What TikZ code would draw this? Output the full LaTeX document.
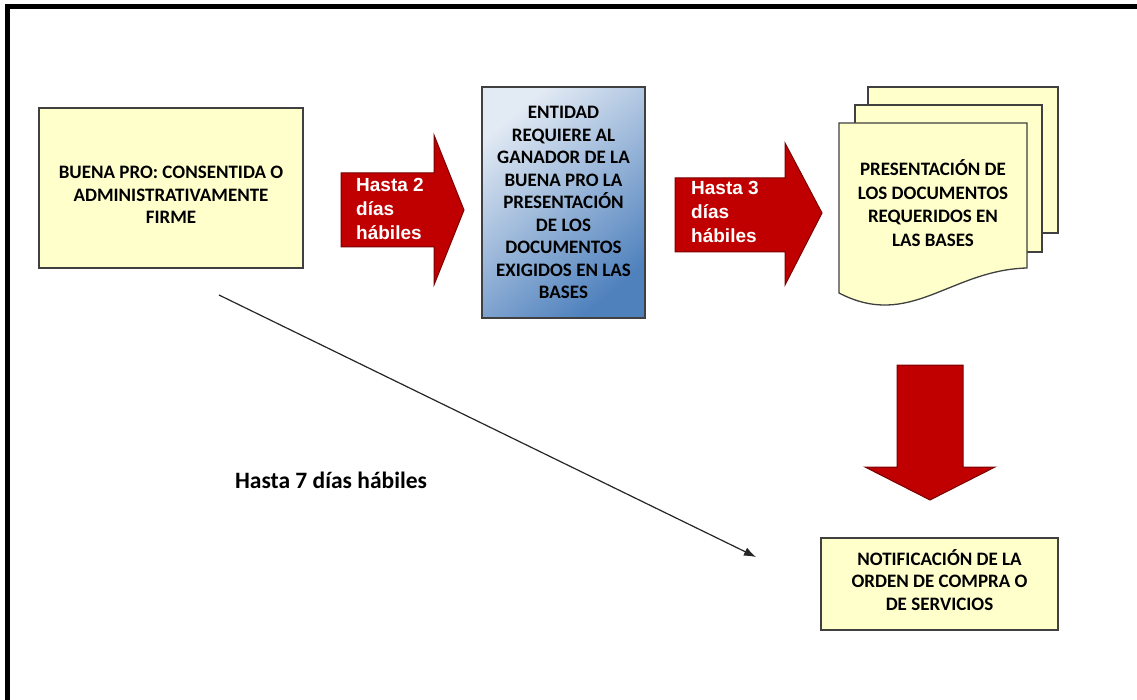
\documentclass[tikz,border=0pt]{standalone}
\usepackage{fontspec}
\setmainfont{Carlito}
\newfontfamily\arrowfont{Liberation Sans}
\usetikzlibrary{arrows.meta}
\definecolor{boxyellow}{RGB}{255,255,204}
\definecolor{boxline}{RGB}{64,64,64}
\definecolor{arrowred}{RGB}{192,0,0}
\definecolor{arrowedge}{RGB}{120,0,0}
\definecolor{bluelight}{RGB}{226,234,244}
\definecolor{bluedark}{RGB}{79,129,189}
\tikzset{
  ybox/.style={draw=boxline, line width=1.3pt, fill=boxyellow, inner sep=0pt},
  btext/.style={font=\fontsize{19}{22.5}\selectfont\bfseries, align=center, text=black, inner sep=0pt},
  redarrow/.style={fill=arrowred, draw=arrowedge, line width=1pt, line join=miter},
  atext/.style={font=\arrowfont\fontsize{19}{24}\selectfont\bfseries, align=left, text=white, inner sep=0pt, anchor=north west},
  thinarrow/.style={draw=black!85, line width=1.2pt, -{Latex[length=12pt,width=9pt]}},
}
\begin{document}
\begin{tikzpicture}[x=1pt,y=-1pt]
\useasboundingbox (0,0) rectangle (1137,700);
\fill[white] (0,0) rectangle (1137,700);
% frame (top and left edges)
\draw[line width=5pt] (7.5,700) -- (7.5,6.5) -- (1137,6.5);

% box 1
\node[ybox, minimum width=264pt, minimum height=160pt] (b1) at (171,188) {};
\node[btext] (t1) at (171,195) {BUENA PRO: CONSENTIDA O\\ADMINISTRATIVAMENTE\\FIRME};

% arrow 1
\draw[redarrow] (341,173) -- (434,173) -- (434,135) -- (464,210) -- (434,285) -- (434,247) -- (341,247) -- cycle;
\node[atext] (a1) at (356,178) {Hasta 2\\días\\hábiles};

% box 2 (blue gradient)
\node[draw=boxline, line width=1.3pt, minimum width=163pt, minimum height=231pt,
      top color=bluelight, bottom color=bluedark, shading angle=40, inner sep=0pt] (b2) at (563.5,202.5) {};
\node[btext] (t2) at (563.5,202.5) {ENTIDAD\\REQUIERE AL\\GANADOR DE LA\\BUENA PRO LA\\PRESENTACIÓN\\DE LOS\\DOCUMENTOS\\EXIGIDOS EN LAS\\BASES};

% arrow 2
\draw[redarrow] (675,178) -- (785,178) -- (785,143) -- (822,213) -- (785,285) -- (785,252) -- (675,252) -- cycle;
\node[atext] (a2) at (691,181) {Hasta 3\\días\\hábiles};

% document stack
\draw[ybox] (868,87) rectangle (1058,233);
\draw[ybox] (855,105) rectangle (1042,252);
\draw[ybox] (839,123) -- (1027,123) -- (1027,268) .. controls (950,270) and (910,330) .. (839,293) -- cycle;
\node[btext, font=\fontsize{19}{23.7}\selectfont\bfseries] (t3) at (933,203) {PRESENTACIÓN DE\\LOS DOCUMENTOS\\REQUERIDOS EN\\LAS BASES};

% down arrow
\draw[redarrow] (897,365) -- (963,365) -- (963,467) -- (995,467) -- (930,500) -- (865,467) -- (897,467) -- cycle;

% box 4
\node[ybox, minimum width=237pt, minimum height=92pt] (b4) at (939.5,584) {};
\node[btext] (t4) at (939.5,580) {NOTIFICACIÓN DE LA\\ORDEN DE COMPRA O\\DE SERVICIOS};

% thin arrow
\coordinate (s) at (219,295);
\coordinate (e) at (756,557);
\draw[thinarrow] (s) -- (e);
\node[btext, font=\fontsize{23.5}{26}\selectfont\bfseries] (t5) at (331,480) {Hasta 7 días hábiles};
\end{tikzpicture}
\end{document}
